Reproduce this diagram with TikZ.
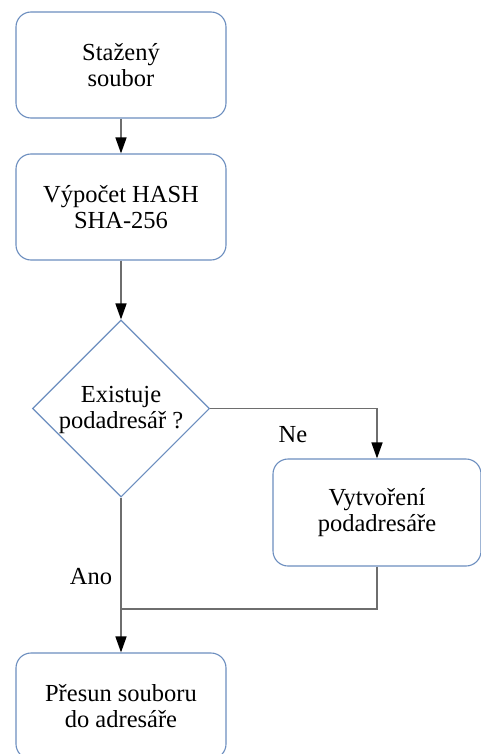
\documentclass[tikz,border=0pt]{standalone}
\usepackage{fontspec}
\setmainfont{Liberation Serif}
\usetikzlibrary{shapes.geometric,arrows.meta}
\definecolor{boxblue}{HTML}{6C8EBF}
\definecolor{linegray}{HTML}{6E6E6E}
\tikzset{
  txt/.style={font=\fontsize{24.5}{26.5}\selectfont, align=center, text=black},
  stepbox/.style={txt, draw=boxblue, line width=1.1pt, rounded corners=15pt,
    minimum width=210pt, minimum height=106pt, inner sep=0pt, fill=white},
  decision/.style={diamond, draw=boxblue, line width=1.1pt, minimum width=177pt,
    minimum height=177pt, inner sep=0pt, fill=white},
  link/.style={draw=linegray, line width=1.5pt},
  arrowlink/.style={link, -{Triangle[length=16pt,width=11pt,color=black]}},
  lbl/.style={txt, inner sep=0pt}
}
\begin{document}
\begin{tikzpicture}[x=1pt,y=-1pt]
  \useasboundingbox (0,0) rectangle (480,754);
  \fill[white] (0,0) rectangle (480,754);

  \node[stepbox] (s1) at (121,65) {Stažený\\soubor};
  \node[stepbox] (s2) at (121,207) {Výpočet HASH\\SHA-256};
  \node[decision] (d) at (121,408.5) {};
  \node[txt] (dt) at (121,410) {Existuje\\podadresář ?};
  \node[stepbox, minimum width=208pt, minimum height=107pt] (s3) at (377,512.5) {Vytvoření\\podadresáře};
  \node[stepbox] (s4) at (121,706) {Přesun souboru\\do adresáře};

  \coordinate (j) at (121,609);

  \draw[arrowlink] (s1.south) -- (s2.north);
  \draw[arrowlink] (s2.south) -- (d.north);
  \draw[arrowlink] (d.east) -| (s3.north);
  \draw[arrowlink] (d.south) -- (s4.north);
  \draw[link] (s3.south) |- (j);

  \node[lbl] (ne) at (293,435) {Ne};
  \node[lbl] (ano) at (91,577) {Ano};
\end{tikzpicture}
\end{document}
